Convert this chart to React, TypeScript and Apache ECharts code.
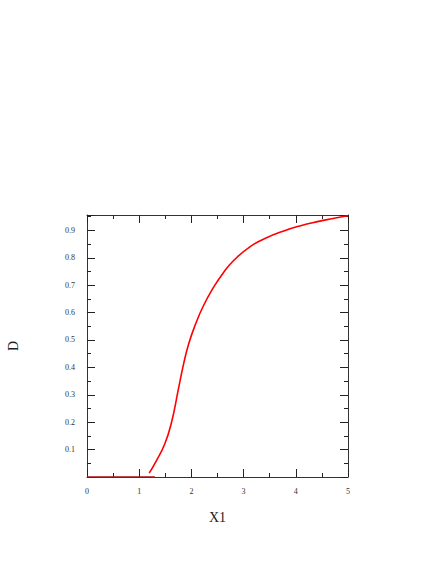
import React, { useEffect, useRef } from "react";
import * as echarts from "echarts";

const curveX = [1.192, 1.333, 1.493, 1.62, 1.747, 1.85, 1.95, 2.08, 2.226, 2.417, 2.6, 2.8, 3.12, 3.44, 3.757, 4.076, 4.395, 4.713, 5.0];
const curveD = [0.014, 0.061, 0.122, 0.2, 0.317, 0.412, 0.487, 0.558, 0.623, 0.69, 0.742, 0.788, 0.84, 0.873, 0.897, 0.916, 0.931, 0.943, 0.953];
const flatX = [0, 1.3];
const flatD = [0, 0];
const xName = "X1";
const yName = "D";

const FONT = "Liberation Serif";

export default function App() {
  const ref = useRef<HTMLDivElement>(null);
  useEffect(() => {
    if (!ref.current) return;
    const chart = echarts.init(ref.current, undefined, { renderer: "svg" });
    const axisLine = { show: true, onZero: false, lineStyle: { color: "#333", width: 1 } };
    const tick = { show: true, inside: true, length: 8, lineStyle: { color: "#222", width: 1 } };
    const minor = { show: true, splitNumber: 2, length: 4, lineStyle: { color: "#222", width: 1 } };
    chart.setOption({
      animation: false,
      grid: { left: 87, right: 88, top: 215, bottom: 87, show: false, outerBoundsMode: "none", containLabel: false },
      xAxis: [
        {
          type: "value", min: 0, max: 5, interval: 1, position: "bottom",
          name: xName, nameLocation: "middle", nameGap: 33,
          nameTextStyle: { fontFamily: FONT, fontSize: 14, color: "#222" },
          axisLine, axisTick: tick, minorTick: minor, splitLine: { show: false },
          axisLabel: { fontFamily: FONT, fontSize: 8, color: "#333", margin: 10 },
        },
        {
          type: "value", min: 0, max: 5, interval: 1, position: "top",
          axisLine, axisTick: tick, minorTick: minor, splitLine: { show: false },
          axisLabel: { show: false },
        },
      ],
      yAxis: [
        {
          type: "value", min: 0, max: 0.956, interval: 0.1, position: "left",
          name: yName, nameLocation: "middle", nameGap: 67,
          nameTextStyle: { fontFamily: FONT, fontSize: 14, color: "#222" },
          axisLine, axisTick: tick, minorTick: minor, splitLine: { show: false },
          axisLabel: {
            fontFamily: FONT, fontSize: 8, color: "#333", margin: 12,
            showMinLabel: false, showMaxLabel: false,
            formatter: (v: number) => (v === 0 ? "" : v.toFixed(1)),
          },
        },
        {
          type: "value", min: 0, max: 0.956, interval: 0.1, position: "right",
          axisLine, axisTick: tick, minorTick: minor, splitLine: { show: false },
          axisLabel: { show: false },
        },
      ],
      series: [
        {
          type: "line", data: flatX.map((x, i) => [x, flatD[i]]), showSymbol: false,
          lineStyle: { color: "#aa1111", width: 1.5 }, z: 1,
        },
        {
          type: "line", data: curveX.map((x, i) => [x, curveD[i]]), showSymbol: false,
          smooth: 0.5, lineStyle: { color: "#ff0000", width: 1.6 },
        },
      ],
    });
    return () => chart.dispose();
  }, []);
  return <div ref={ref} style={{ position: "absolute", left: 0, top: 0, width: 436, height: 564 }} />;
}
